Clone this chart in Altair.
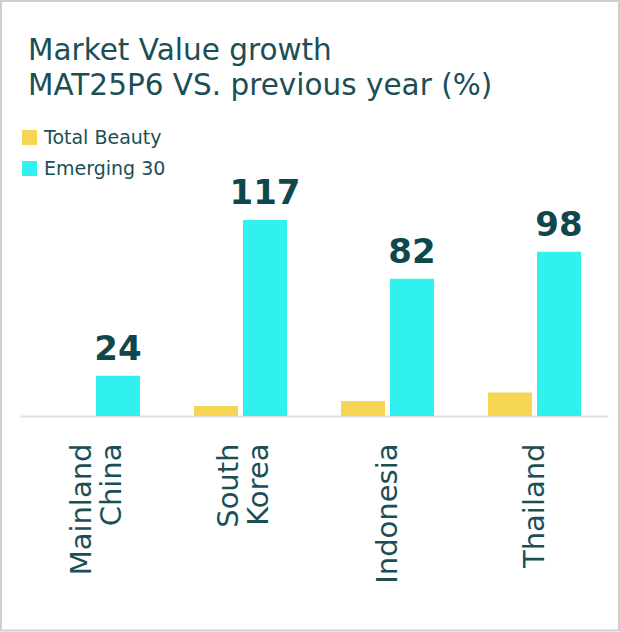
import altair as alt
import pandas as pd

# Market value growth, MAT25P6 vs. previous year (%)
countries = ["Mainland China", "South Korea", "Indonesia", "Thailand"]
series = ["Total Beauty", "Emerging 30"]
total_beauty = [0, 6, 9, 14]
emerging_30 = [24, 117, 82, 98]

rows = []
for i, c in enumerate(countries):
    rows.append({"country": c, "series": series[0], "value": total_beauty[i]})
    rows.append({"country": c, "series": series[1], "value": emerging_30[i]})
df = pd.DataFrame(rows)

TEXT = "#1b4f55"
NUM = "#0f474d"
FONT = "DejaVu Sans"

W, H = 588, 201
PAD_L, PAD_T = 20, 215

base = alt.Chart(df)

x_enc = alt.X(
    "country:N",
    sort=countries,
    scale=alt.Scale(paddingInner=0, paddingOuter=0),
    axis=alt.Axis(
        title=None,
        labelAngle=-90,
        labelAlign="right",
        labelBaseline="middle",
        labelFont=FONT,
        labelFontSize=29,
        labelColor=TEXT,
        labelPadding=27,
        labelLineHeight=30,
        labelExpr="split(datum.label, ' ')",
        # two-line labels are centred on their band
        labelOffset={"condition": {"test": "indexof(datum.label, ' ') >= 0", "value": -12}, "value": 0},
        ticks=False,
        domainColor="#e2e2dc",
        domainWidth=2,
        grid=False,
    ),
)
y_enc = alt.Y("value:Q", axis=None, scale=alt.Scale(domain=[0, 120], nice=False))
offset_enc = alt.XOffset("series:N", sort=series,
                         scale=alt.Scale(paddingInner=0.102, paddingOuter=0.551))

bars = base.mark_bar().encode(
    x=x_enc,
    xOffset=offset_enc,
    y=y_enc,
    color=alt.Color(
        "series:N",
        sort=series,
        scale=alt.Scale(domain=series, range=["#F6D553", "#31F1EE"]),
        legend=alt.Legend(
            title=None,
            orient="none",
            legendX=0,
            legendY=-87,
            symbolType="square",
            symbolSize=225,
            symbolStrokeWidth=0,
            labelFont=FONT,
            labelFontSize=19,
            labelColor=TEXT,
            labelOffset=5,
            rowPadding=11,
            padding=0,
        ),
    ),
)

labels = base.transform_filter(alt.datum.series == "Emerging 30").mark_text(
    font=FONT, fontSize=34, fontWeight="bold", color=NUM,
    baseline="alphabetic", dy=-16,
).encode(
    x=x_enc,
    xOffset=offset_enc,
    y=y_enc,
    text=alt.Text("value:Q"),
)

# thin grey frame around the whole card
frame = alt.Chart(pd.DataFrame({"k": [0]})).mark_rect(
    fill=None, stroke="#cfcfcf", strokeWidth=2, clip=False
).encode(
    x=alt.value(1 - PAD_L),
    x2=alt.value(619 - PAD_L),
    y=alt.value(1 - PAD_T),
    y2=alt.value(630.5 - PAD_T),
)

chart = alt.layer(bars, labels, frame).properties(
    width=W,
    height=H,
    padding={"left": PAD_L, "top": PAD_T, "right": 620 - PAD_L - W, "bottom": 632 - PAD_T - H},
    autosize=alt.AutoSizeParams(type="none"),
    title=alt.TitleParams(
        text=["Market Value growth", "MAT25P6 VS. previous year (%)"],
        anchor="start",
        frame="group",
        font=FONT,
        fontSize=29.5,
        fontWeight="normal",
        color=TEXT,
        lineHeight=35,
        dx=8,
        offset=0,
        dy=101,
    ),
).configure_view(strokeWidth=0, stroke=None)

chart.save("out.html", embed_options={"renderer": "svg", "actions": False})
